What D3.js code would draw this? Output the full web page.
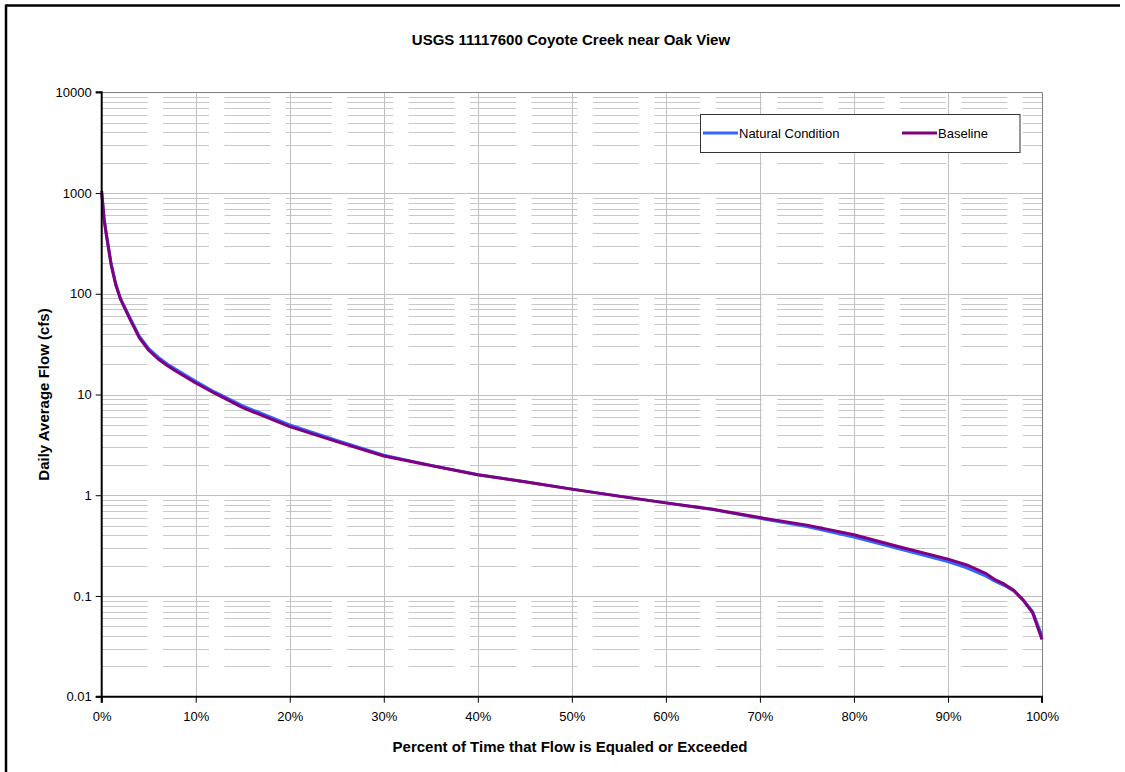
<!DOCTYPE html>
<html>
<head>
<meta charset="utf-8">
<script src="https://cdn.jsdelivr.net/npm/d3@7"></script>
<style>
  html, body { margin: 0; padding: 0; background: #fff; }
  svg { display: block; font-family: "Liberation Sans", Arial, sans-serif; }
</style>
</head>
<body>
<svg id="chart" width="1125" height="772"></svg>
<script>
// Exceedance percentages (x) shared by both series
const exceedance = [0, 0.25, 0.5, 1, 1.5, 2, 3, 4, 5, 6, 7, 8, 10, 12, 15, 20, 25, 30, 35, 40,
  45, 50, 55, 60, 65, 70, 75, 80, 85, 90, 92, 94, 95, 96, 97, 98, 99, 100];

// Daily average flow (cfs)
const naturalFlow = [1000, 560, 390, 200, 125, 90, 58, 38, 28.5, 23.5, 20, 17.5, 13.5, 10.6, 7.7, 5.0, 3.5, 2.5, 1.98, 1.6,
  1.36, 1.15, 0.98, 0.84, 0.72, 0.59, 0.49, 0.385, 0.29, 0.22, 0.19, 0.158, 0.14, 0.127, 0.112, 0.091, 0.07, 0.04];
const baselineFlow = [1050, 550, 380, 195, 122, 88, 56, 36.5, 27.5, 22.5, 19.3, 16.8, 13.0, 10.3, 7.4, 4.8, 3.4, 2.45, 1.97, 1.6,
  1.36, 1.15, 0.98, 0.84, 0.725, 0.6, 0.505, 0.405, 0.305, 0.232, 0.203, 0.168, 0.145, 0.131, 0.114, 0.091, 0.068, 0.037];

const seriesNames = ["Natural Condition", "Baseline"];
const seriesColors = ["#3366ff", "#800080"];
const xTicks = [0, 10, 20, 30, 40, 50, 60, 70, 80, 90, 100];
const yTicks = [0.01, 0.1, 1, 10, 100, 1000, 10000];

const svg = d3.select("#chart");

// Outer frame (top and left edges visible)
svg.append("line").attr("x1", 6).attr("x2", 1120).attr("y1", 5.5).attr("y2", 5.5)
  .attr("stroke", "#000").attr("stroke-width", 2.5);
svg.append("line").attr("x1", 6).attr("x2", 6).attr("y1", 4.5).attr("y2", 772)
  .attr("stroke", "#000").attr("stroke-width", 2.5);

const plot = { left: 101.7, right: 1042, top: 92.3, bottom: 696.7 };
const x = d3.scaleLinear().domain([0, 100]).range([plot.left, plot.right]);
const y = d3.scaleLog().domain([0.01, 10000]).range([plot.bottom, plot.top]);

const g = svg.append("g");

// Minor horizontal gridlines (2..9 within each decade), dashed
const minorVals = [];
for (let e = -2; e < 4; e++) for (let m = 2; m <= 9; m++) minorVals.push(m * Math.pow(10, e));
g.selectAll("line.minor").data(minorVals).join("line")
  .attr("class", "minor")
  .attr("x1", plot.left).attr("x2", plot.right)
  .attr("y1", d => Math.round(y(d)) + 0.5).attr("y2", d => Math.round(y(d)) + 0.5)
  .attr("stroke", "#c8c8c8").attr("stroke-width", 1)
  .attr("stroke-dasharray", "46,15.4");

// Major horizontal gridlines at decades
g.selectAll("line.majorY").data(yTicks.slice(1, -1)).join("line")
  .attr("x1", plot.left).attr("x2", plot.right)
  .attr("y1", d => Math.round(y(d)) + 0.5).attr("y2", d => Math.round(y(d)) + 0.5)
  .attr("stroke", "#c0c0c0").attr("stroke-width", 1);

// Vertical gridlines
g.selectAll("line.majorX").data(xTicks.slice(1, -1)).join("line")
  .attr("x1", d => Math.round(x(d)) + 0.5).attr("x2", d => Math.round(x(d)) + 0.5)
  .attr("y1", plot.top).attr("y2", plot.bottom)
  .attr("stroke", "#c0c0c0").attr("stroke-width", 1);

// Plot border (top and right, gray)
g.append("path")
  .attr("d", `M${plot.left},${Math.round(plot.top) + 0.5}H${Math.round(plot.right) + 0.5}V${plot.bottom}`)
  .attr("fill", "none").attr("stroke", "#808080").attr("stroke-width", 1);

// Series lines
const line = d3.line().x((d, i) => x(exceedance[i])).y(d => y(d));
[naturalFlow, baselineFlow].forEach((vals, k) => {
  g.append("path").datum(vals)
    .attr("d", line)
    .attr("fill", "none")
    .attr("stroke", seriesColors[k])
    .attr("stroke-width", 3)
    .attr("stroke-linejoin", "round");
});

// Axes
const yAxis = d3.axisLeft(y).tickValues(yTicks).tickFormat(d => String(d)).tickSize(6).tickPadding(4);
const xAxis = d3.axisBottom(x).tickValues(xTicks).tickFormat(d => d + "%").tickSize(6).tickPadding(9);

const ya = svg.append("g").attr("transform", `translate(${plot.left},0)`).call(yAxis);
const xa = svg.append("g").attr("transform", `translate(0,${plot.bottom})`).call(xAxis);
[ya, xa].forEach(a => {
  a.select(".domain").attr("stroke", "#000").attr("stroke-width", 2);
  a.selectAll(".tick line").attr("stroke", "#000").attr("stroke-width", 1);
  a.selectAll("text").attr("font-size", 13).attr("fill", "#000")
    .attr("font-family", "'Liberation Sans', Arial, sans-serif");
});
ya.select(".domain").attr("d", `M-6,${plot.bottom}H0V${plot.top}H-6`);
xa.select(".domain").attr("d", `M${plot.left},6V0H${plot.right}V6`);

// Title and axis titles
svg.append("text").attr("x", 571).attr("y", 44.5).attr("text-anchor", "middle")
  .attr("font-weight", "bold").attr("font-size", 15).text("USGS 11117600 Coyote Creek near Oak View");
svg.append("text").attr("x", 570).attr("y", 752).attr("text-anchor", "middle")
  .attr("font-weight", "bold").attr("font-size", 15).text("Percent of Time that Flow is Equaled or Exceeded");
svg.append("text").attr("transform", `translate(49,${(plot.top + plot.bottom) / 2}) rotate(-90)`)
  .attr("text-anchor", "middle").attr("font-weight", "bold").attr("font-size", 15)
  .text("Daily Average Flow (cfs)");

// Legend
const lg = svg.append("g");
lg.append("rect").attr("x", 700.5).attr("y", 114.5).attr("width", 319.5).attr("height", 38)
  .attr("fill", "#fff").attr("stroke", "#333").attr("stroke-width", 1);
const legendItems = [{ x0: 703, x1: 738 }, { x0: 902, x1: 937 }];
legendItems.forEach((it, k) => {
  lg.append("line").attr("x1", it.x0).attr("x2", it.x1).attr("y1", 133).attr("y2", 133)
    .attr("stroke", seriesColors[k]).attr("stroke-width", 3);
  lg.append("text").attr("x", it.x1 + 1).attr("y", 137.5).attr("font-size", 13).text(seriesNames[k]);
});
</script>
</body>
</html>
